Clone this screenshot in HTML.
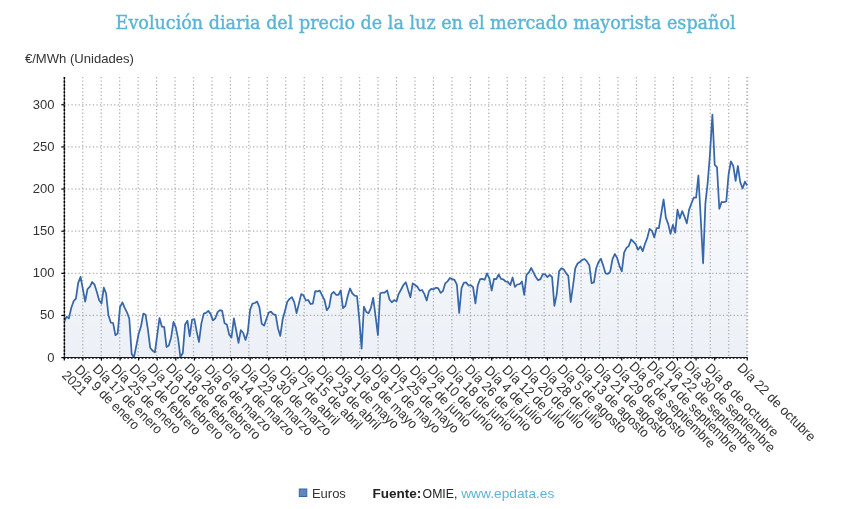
<!DOCTYPE html>
<html lang="es"><head><meta charset="utf-8"><title>Evolución diaria del precio de la luz</title>
<style>
html,body{margin:0;padding:0;background:#fff}
body{width:844px;height:509px;overflow:hidden}
svg{display:block}
.t{font-family:"DejaVu Serif","Liberation Serif",serif;font-size:17.6px;fill:#5bb5d5}
.s{font-family:"Liberation Sans","DejaVu Sans",sans-serif;fill:#333}
</style></head><body>
<svg width="844" height="509" viewBox="0 0 844 509" style="will-change:transform">
<rect width="844" height="509" fill="#fff"/>
<text class="t" x="115.6" y="28.8" textLength="620" stroke="#5bb5d5" stroke-width="0.4" lengthAdjust="spacingAndGlyphs">Evolución diaria del precio de la luz en el mercado mayorista español</text>
<text class="s" x="24.9" y="63.3" font-size="13" textLength="109" lengthAdjust="spacingAndGlyphs">€/MWh (Unidades)</text>
<g stroke="#b2b2b2" stroke-width="1.25" stroke-dasharray="1.3 2.26" fill="none">
<line x1="82.76" y1="77" x2="82.76" y2="357.6"/>
<line x1="101.21" y1="77" x2="101.21" y2="357.6"/>
<line x1="119.67" y1="77" x2="119.67" y2="357.6"/>
<line x1="138.13" y1="77" x2="138.13" y2="357.6"/>
<line x1="156.58" y1="77" x2="156.58" y2="357.6"/>
<line x1="175.04" y1="77" x2="175.04" y2="357.6"/>
<line x1="193.50" y1="77" x2="193.50" y2="357.6"/>
<line x1="211.95" y1="77" x2="211.95" y2="357.6"/>
<line x1="230.41" y1="77" x2="230.41" y2="357.6"/>
<line x1="248.87" y1="77" x2="248.87" y2="357.6"/>
<line x1="267.32" y1="77" x2="267.32" y2="357.6"/>
<line x1="285.78" y1="77" x2="285.78" y2="357.6"/>
<line x1="304.24" y1="77" x2="304.24" y2="357.6"/>
<line x1="322.69" y1="77" x2="322.69" y2="357.6"/>
<line x1="341.15" y1="77" x2="341.15" y2="357.6"/>
<line x1="359.61" y1="77" x2="359.61" y2="357.6"/>
<line x1="378.06" y1="77" x2="378.06" y2="357.6"/>
<line x1="396.52" y1="77" x2="396.52" y2="357.6"/>
<line x1="414.98" y1="77" x2="414.98" y2="357.6"/>
<line x1="433.44" y1="77" x2="433.44" y2="357.6"/>
<line x1="451.89" y1="77" x2="451.89" y2="357.6"/>
<line x1="470.35" y1="77" x2="470.35" y2="357.6"/>
<line x1="488.81" y1="77" x2="488.81" y2="357.6"/>
<line x1="507.26" y1="77" x2="507.26" y2="357.6"/>
<line x1="525.72" y1="77" x2="525.72" y2="357.6"/>
<line x1="544.18" y1="77" x2="544.18" y2="357.6"/>
<line x1="562.63" y1="77" x2="562.63" y2="357.6"/>
<line x1="581.09" y1="77" x2="581.09" y2="357.6"/>
<line x1="599.55" y1="77" x2="599.55" y2="357.6"/>
<line x1="618.00" y1="77" x2="618.00" y2="357.6"/>
<line x1="636.46" y1="77" x2="636.46" y2="357.6"/>
<line x1="654.92" y1="77" x2="654.92" y2="357.6"/>
<line x1="673.37" y1="77" x2="673.37" y2="357.6"/>
<line x1="691.83" y1="77" x2="691.83" y2="357.6"/>
<line x1="710.29" y1="77" x2="710.29" y2="357.6"/>
<line x1="728.74" y1="77" x2="728.74" y2="357.6"/>
<line x1="747.20" y1="77" x2="747.20" y2="357.6" stroke-width="2"/>
<line x1="64.3" y1="315.47" x2="747.2" y2="315.47"/>
<line x1="64.3" y1="273.33" x2="747.2" y2="273.33"/>
<line x1="64.3" y1="231.20" x2="747.2" y2="231.20"/>
<line x1="64.3" y1="189.06" x2="747.2" y2="189.06"/>
<line x1="64.3" y1="146.93" x2="747.2" y2="146.93"/>
<line x1="64.3" y1="104.79" x2="747.2" y2="104.79"/>
</g>
<defs><linearGradient id="g" gradientUnits="userSpaceOnUse" x1="0" y1="112" x2="0" y2="358"><stop offset="0" stop-color="#3767a9" stop-opacity="0.005"/><stop offset="1" stop-color="#3767a9" stop-opacity="0.095"/></linearGradient></defs>
<polygon points="64.3,357.6 64.3,321.4 66.6,316.6 68.9,318.4 71.3,307.7 73.6,301.2 75.9,298.6 78.2,282.9 80.6,276.9 82.9,289.3 85.2,301.6 87.5,289.1 89.9,286.7 92.2,282.0 94.5,284.6 96.8,291.7 99.1,300.0 101.5,303.6 103.8,287.6 106.1,293.5 108.4,315.0 110.8,322.6 113.1,323.0 115.4,335.2 117.7,333.4 120.0,307.2 122.4,302.4 124.7,307.9 127.0,312.3 129.3,318.8 131.7,354.1 134.0,357.1 136.3,345.8 138.6,334.0 141.0,326.3 143.3,313.6 145.6,314.8 147.9,329.3 150.2,347.7 152.6,350.8 154.9,352.4 157.2,335.2 159.5,318.0 161.9,326.7 164.2,326.8 166.5,347.0 168.8,345.6 171.1,337.5 173.5,321.9 175.8,327.4 178.1,338.7 180.4,357.1 182.8,353.0 185.1,324.5 187.4,320.7 189.7,336.4 192.1,319.5 194.4,319.2 196.7,331.6 199.0,342.0 201.3,323.9 203.7,313.6 206.0,312.9 208.3,310.9 210.6,313.9 213.0,320.4 215.3,318.3 217.6,312.1 219.9,310.1 222.2,310.9 224.6,323.3 226.9,324.5 229.2,334.6 231.5,337.5 233.9,318.3 236.2,330.5 238.5,342.8 240.8,330.1 243.2,333.0 245.5,339.9 247.8,332.0 250.1,309.7 252.4,303.6 254.8,303.0 257.1,301.6 259.4,307.2 261.7,323.7 264.1,325.6 266.4,319.0 268.7,312.5 271.0,311.6 273.4,314.3 275.7,314.9 278.0,328.5 280.3,335.9 282.6,319.6 285.0,310.7 287.3,301.8 289.6,298.9 291.9,297.1 294.3,302.4 296.6,313.1 298.9,303.6 301.2,294.1 303.5,295.3 305.9,300.5 308.2,300.0 310.5,304.0 312.8,303.6 315.2,291.2 317.5,291.4 319.8,290.6 322.1,295.3 324.5,300.0 326.8,310.2 329.1,307.1 331.4,294.2 333.7,291.9 336.1,294.8 338.4,294.8 340.7,290.4 343.0,308.2 345.4,305.9 347.7,296.0 350.0,288.5 352.3,293.3 354.6,295.7 357.0,296.0 359.3,319.3 361.6,348.6 363.9,306.7 366.3,312.0 368.6,313.2 370.9,307.9 373.2,297.8 375.6,316.5 377.9,335.1 380.2,293.3 382.5,292.5 384.8,292.5 387.2,290.4 389.5,299.5 391.8,302.3 394.1,300.1 396.5,301.3 398.8,293.6 401.1,289.5 403.4,285.0 405.8,282.3 408.1,290.1 410.4,297.2 412.7,283.4 415.0,285.0 417.4,286.8 419.7,290.6 422.0,290.0 424.3,293.9 426.7,300.5 429.0,291.1 431.3,288.8 433.6,289.3 435.9,287.6 438.3,288.4 440.6,292.9 442.9,291.1 445.2,283.4 447.6,281.3 449.9,278.0 452.2,279.2 454.5,279.8 456.9,284.6 459.2,313.0 461.5,288.2 463.8,282.9 466.1,282.4 468.5,285.5 470.8,285.2 473.1,287.2 475.4,303.3 477.8,285.2 480.1,279.2 482.4,278.9 484.7,279.8 487.0,273.3 489.4,278.6 491.7,290.5 494.0,278.9 496.3,279.2 498.7,274.5 501.0,278.9 503.3,279.4 505.6,281.5 508.0,281.9 510.3,285.1 512.6,277.5 514.9,286.9 517.2,284.5 519.6,284.2 521.9,281.5 524.2,294.9 526.5,274.8 528.9,272.4 531.2,268.0 533.5,272.4 535.8,277.1 538.1,280.3 540.5,279.1 542.8,274.2 545.1,274.3 547.4,277.1 549.8,274.8 552.1,277.1 554.4,305.9 556.7,294.3 559.1,271.1 561.4,268.2 563.7,269.4 566.0,273.0 568.3,275.9 570.7,302.0 573.0,286.0 575.3,268.2 577.6,263.5 580.0,261.7 582.3,259.9 584.6,259.0 586.9,261.4 589.3,265.2 591.6,283.1 593.9,282.4 596.2,268.2 598.5,262.0 600.9,258.8 603.2,265.6 605.5,273.3 607.8,273.9 610.2,271.6 612.5,259.1 614.8,254.0 617.1,257.9 619.4,265.6 621.8,271.3 624.1,252.6 626.4,247.9 628.7,246.1 631.1,239.5 633.4,241.6 635.7,244.1 638.0,249.7 640.4,246.4 642.7,251.2 645.0,243.7 647.3,237.9 649.6,228.8 652.0,230.9 654.3,237.4 656.6,228.0 658.9,228.0 661.3,213.2 663.6,199.5 665.9,217.9 668.2,223.9 670.5,233.9 672.9,224.8 675.2,232.7 677.5,209.6 679.8,218.5 682.2,211.1 684.5,216.7 686.8,223.3 689.1,209.6 691.5,203.2 693.8,197.5 696.1,197.7 698.4,175.5 700.7,217.7 703.1,263.3 705.4,203.4 707.7,182.7 710.0,153.7 712.4,114.6 714.7,164.8 717.0,167.1 719.3,208.8 721.6,202.0 724.0,202.2 726.3,201.1 728.6,174.3 730.9,161.3 733.3,166.0 735.6,180.8 737.9,166.0 740.2,182.0 742.6,188.5 744.9,181.7 747.2,185.5 747.2,357.6" fill="url(#g)"/>
<polyline points="64.3,321.4 66.6,316.6 68.9,318.4 71.3,307.7 73.6,301.2 75.9,298.6 78.2,282.9 80.6,276.9 82.9,289.3 85.2,301.6 87.5,289.1 89.9,286.7 92.2,282.0 94.5,284.6 96.8,291.7 99.1,300.0 101.5,303.6 103.8,287.6 106.1,293.5 108.4,315.0 110.8,322.6 113.1,323.0 115.4,335.2 117.7,333.4 120.0,307.2 122.4,302.4 124.7,307.9 127.0,312.3 129.3,318.8 131.7,354.1 134.0,357.1 136.3,345.8 138.6,334.0 141.0,326.3 143.3,313.6 145.6,314.8 147.9,329.3 150.2,347.7 152.6,350.8 154.9,352.4 157.2,335.2 159.5,318.0 161.9,326.7 164.2,326.8 166.5,347.0 168.8,345.6 171.1,337.5 173.5,321.9 175.8,327.4 178.1,338.7 180.4,357.1 182.8,353.0 185.1,324.5 187.4,320.7 189.7,336.4 192.1,319.5 194.4,319.2 196.7,331.6 199.0,342.0 201.3,323.9 203.7,313.6 206.0,312.9 208.3,310.9 210.6,313.9 213.0,320.4 215.3,318.3 217.6,312.1 219.9,310.1 222.2,310.9 224.6,323.3 226.9,324.5 229.2,334.6 231.5,337.5 233.9,318.3 236.2,330.5 238.5,342.8 240.8,330.1 243.2,333.0 245.5,339.9 247.8,332.0 250.1,309.7 252.4,303.6 254.8,303.0 257.1,301.6 259.4,307.2 261.7,323.7 264.1,325.6 266.4,319.0 268.7,312.5 271.0,311.6 273.4,314.3 275.7,314.9 278.0,328.5 280.3,335.9 282.6,319.6 285.0,310.7 287.3,301.8 289.6,298.9 291.9,297.1 294.3,302.4 296.6,313.1 298.9,303.6 301.2,294.1 303.5,295.3 305.9,300.5 308.2,300.0 310.5,304.0 312.8,303.6 315.2,291.2 317.5,291.4 319.8,290.6 322.1,295.3 324.5,300.0 326.8,310.2 329.1,307.1 331.4,294.2 333.7,291.9 336.1,294.8 338.4,294.8 340.7,290.4 343.0,308.2 345.4,305.9 347.7,296.0 350.0,288.5 352.3,293.3 354.6,295.7 357.0,296.0 359.3,319.3 361.6,348.6 363.9,306.7 366.3,312.0 368.6,313.2 370.9,307.9 373.2,297.8 375.6,316.5 377.9,335.1 380.2,293.3 382.5,292.5 384.8,292.5 387.2,290.4 389.5,299.5 391.8,302.3 394.1,300.1 396.5,301.3 398.8,293.6 401.1,289.5 403.4,285.0 405.8,282.3 408.1,290.1 410.4,297.2 412.7,283.4 415.0,285.0 417.4,286.8 419.7,290.6 422.0,290.0 424.3,293.9 426.7,300.5 429.0,291.1 431.3,288.8 433.6,289.3 435.9,287.6 438.3,288.4 440.6,292.9 442.9,291.1 445.2,283.4 447.6,281.3 449.9,278.0 452.2,279.2 454.5,279.8 456.9,284.6 459.2,313.0 461.5,288.2 463.8,282.9 466.1,282.4 468.5,285.5 470.8,285.2 473.1,287.2 475.4,303.3 477.8,285.2 480.1,279.2 482.4,278.9 484.7,279.8 487.0,273.3 489.4,278.6 491.7,290.5 494.0,278.9 496.3,279.2 498.7,274.5 501.0,278.9 503.3,279.4 505.6,281.5 508.0,281.9 510.3,285.1 512.6,277.5 514.9,286.9 517.2,284.5 519.6,284.2 521.9,281.5 524.2,294.9 526.5,274.8 528.9,272.4 531.2,268.0 533.5,272.4 535.8,277.1 538.1,280.3 540.5,279.1 542.8,274.2 545.1,274.3 547.4,277.1 549.8,274.8 552.1,277.1 554.4,305.9 556.7,294.3 559.1,271.1 561.4,268.2 563.7,269.4 566.0,273.0 568.3,275.9 570.7,302.0 573.0,286.0 575.3,268.2 577.6,263.5 580.0,261.7 582.3,259.9 584.6,259.0 586.9,261.4 589.3,265.2 591.6,283.1 593.9,282.4 596.2,268.2 598.5,262.0 600.9,258.8 603.2,265.6 605.5,273.3 607.8,273.9 610.2,271.6 612.5,259.1 614.8,254.0 617.1,257.9 619.4,265.6 621.8,271.3 624.1,252.6 626.4,247.9 628.7,246.1 631.1,239.5 633.4,241.6 635.7,244.1 638.0,249.7 640.4,246.4 642.7,251.2 645.0,243.7 647.3,237.9 649.6,228.8 652.0,230.9 654.3,237.4 656.6,228.0 658.9,228.0 661.3,213.2 663.6,199.5 665.9,217.9 668.2,223.9 670.5,233.9 672.9,224.8 675.2,232.7 677.5,209.6 679.8,218.5 682.2,211.1 684.5,216.7 686.8,223.3 689.1,209.6 691.5,203.2 693.8,197.5 696.1,197.7 698.4,175.5 700.7,217.7 703.1,263.3 705.4,203.4 707.7,182.7 710.0,153.7 712.4,114.6 714.7,164.8 717.0,167.1 719.3,208.8 721.6,202.0 724.0,202.2 726.3,201.1 728.6,174.3 730.9,161.3 733.3,166.0 735.6,180.8 737.9,166.0 740.2,182.0 742.6,188.5 744.9,181.7 747.2,185.5" fill="none" stroke="#3767a9" stroke-width="1.75" stroke-linejoin="round"/>
<g stroke="#000" fill="none">
<line x1="64.39999999999999" y1="77" x2="64.39999999999999" y2="358.5" stroke-width="1.2" stroke="#5a5a5a"/>
<line x1="64.39999999999999" y1="77" x2="64.39999999999999" y2="358.5" stroke-width="1.5" stroke-dasharray="2.1 1.44"/>
<line x1="63.599999999999994" y1="357.5" x2="747.7" y2="357.5" stroke-width="1.1" stroke="#14161c"/>
<line x1="63.599999999999994" y1="358.5" x2="747.7" y2="358.5" stroke-width="1" stroke="#14161c" stroke-opacity="0.75" stroke-dasharray="1.9 1.64"/>
<line x1="61.3" y1="357.60" x2="64.3" y2="357.60" stroke-width="1.2"/>
<line x1="61.3" y1="315.47" x2="64.3" y2="315.47" stroke-width="1.2"/>
<line x1="61.3" y1="273.33" x2="64.3" y2="273.33" stroke-width="1.2"/>
<line x1="61.3" y1="231.20" x2="64.3" y2="231.20" stroke-width="1.2"/>
<line x1="61.3" y1="189.06" x2="64.3" y2="189.06" stroke-width="1.2"/>
<line x1="61.3" y1="146.93" x2="64.3" y2="146.93" stroke-width="1.2"/>
<line x1="61.3" y1="104.79" x2="64.3" y2="104.79" stroke-width="1.2"/>
<line x1="64.30" y1="357.6" x2="64.30" y2="360.6" stroke-width="1.2"/>
<line x1="82.88" y1="357.6" x2="82.88" y2="360.6" stroke-width="1.2"/>
<line x1="101.46" y1="357.6" x2="101.46" y2="360.6" stroke-width="1.2"/>
<line x1="120.05" y1="357.6" x2="120.05" y2="360.6" stroke-width="1.2"/>
<line x1="138.63" y1="357.6" x2="138.63" y2="360.6" stroke-width="1.2"/>
<line x1="157.21" y1="357.6" x2="157.21" y2="360.6" stroke-width="1.2"/>
<line x1="175.79" y1="357.6" x2="175.79" y2="360.6" stroke-width="1.2"/>
<line x1="194.38" y1="357.6" x2="194.38" y2="360.6" stroke-width="1.2"/>
<line x1="212.96" y1="357.6" x2="212.96" y2="360.6" stroke-width="1.2"/>
<line x1="231.54" y1="357.6" x2="231.54" y2="360.6" stroke-width="1.2"/>
<line x1="250.12" y1="357.6" x2="250.12" y2="360.6" stroke-width="1.2"/>
<line x1="268.71" y1="357.6" x2="268.71" y2="360.6" stroke-width="1.2"/>
<line x1="287.29" y1="357.6" x2="287.29" y2="360.6" stroke-width="1.2"/>
<line x1="305.87" y1="357.6" x2="305.87" y2="360.6" stroke-width="1.2"/>
<line x1="324.45" y1="357.6" x2="324.45" y2="360.6" stroke-width="1.2"/>
<line x1="343.03" y1="357.6" x2="343.03" y2="360.6" stroke-width="1.2"/>
<line x1="361.62" y1="357.6" x2="361.62" y2="360.6" stroke-width="1.2"/>
<line x1="380.20" y1="357.6" x2="380.20" y2="360.6" stroke-width="1.2"/>
<line x1="398.78" y1="357.6" x2="398.78" y2="360.6" stroke-width="1.2"/>
<line x1="417.36" y1="357.6" x2="417.36" y2="360.6" stroke-width="1.2"/>
<line x1="435.95" y1="357.6" x2="435.95" y2="360.6" stroke-width="1.2"/>
<line x1="454.53" y1="357.6" x2="454.53" y2="360.6" stroke-width="1.2"/>
<line x1="473.11" y1="357.6" x2="473.11" y2="360.6" stroke-width="1.2"/>
<line x1="491.69" y1="357.6" x2="491.69" y2="360.6" stroke-width="1.2"/>
<line x1="510.28" y1="357.6" x2="510.28" y2="360.6" stroke-width="1.2"/>
<line x1="528.86" y1="357.6" x2="528.86" y2="360.6" stroke-width="1.2"/>
<line x1="547.44" y1="357.6" x2="547.44" y2="360.6" stroke-width="1.2"/>
<line x1="566.02" y1="357.6" x2="566.02" y2="360.6" stroke-width="1.2"/>
<line x1="584.60" y1="357.6" x2="584.60" y2="360.6" stroke-width="1.2"/>
<line x1="603.19" y1="357.6" x2="603.19" y2="360.6" stroke-width="1.2"/>
<line x1="621.77" y1="357.6" x2="621.77" y2="360.6" stroke-width="1.2"/>
<line x1="640.35" y1="357.6" x2="640.35" y2="360.6" stroke-width="1.2"/>
<line x1="658.93" y1="357.6" x2="658.93" y2="360.6" stroke-width="1.2"/>
<line x1="677.52" y1="357.6" x2="677.52" y2="360.6" stroke-width="1.2"/>
<line x1="696.10" y1="357.6" x2="696.10" y2="360.6" stroke-width="1.2"/>
<line x1="714.68" y1="357.6" x2="714.68" y2="360.6" stroke-width="1.2"/>
<line x1="747.20" y1="357.6" x2="747.20" y2="360.6" stroke-width="1.2"/>
</g>
<g class="s" font-size="13" text-anchor="end">
<text x="54.5" y="361.5">0</text>
<text x="54.5" y="319.4">50</text>
<text x="54.5" y="277.2">100</text>
<text x="54.5" y="235.1">150</text>
<text x="54.5" y="193.0">200</text>
<text x="54.5" y="150.8">250</text>
<text x="54.5" y="108.7">300</text>
</g>
<g class="s" font-size="13.6">
<text transform="translate(61.3 376.2) rotate(45)" textLength="28.4" lengthAdjust="spacingAndGlyphs">2021</text>
<text transform="translate(74.0 370.4) rotate(45)" textLength="85.0" lengthAdjust="spacingAndGlyphs">Día 9 de enero</text>
<text transform="translate(91.9 369.7) rotate(45)" textLength="92.1" lengthAdjust="spacingAndGlyphs">Día 17 de enero</text>
<text transform="translate(110.5 369.7) rotate(45)" textLength="92.1" lengthAdjust="spacingAndGlyphs">Día 25 de enero</text>
<text transform="translate(128.8 369.4) rotate(45)" textLength="94.2" lengthAdjust="spacingAndGlyphs">Día 2 de febrero</text>
<text transform="translate(146.7 368.7) rotate(45)" textLength="101.3" lengthAdjust="spacingAndGlyphs">Día 10 de febrero</text>
<text transform="translate(165.3 368.7) rotate(45)" textLength="101.3" lengthAdjust="spacingAndGlyphs">Día 18 de febrero</text>
<text transform="translate(183.8 368.7) rotate(45)" textLength="101.3" lengthAdjust="spacingAndGlyphs">Día 26 de febrero</text>
<text transform="translate(203.8 370.1) rotate(45)" textLength="88.1" lengthAdjust="spacingAndGlyphs">Día 6 de marzo</text>
<text transform="translate(221.6 369.3) rotate(45)" textLength="95.2" lengthAdjust="spacingAndGlyphs">Día 14 de marzo</text>
<text transform="translate(240.2 369.3) rotate(45)" textLength="95.2" lengthAdjust="spacingAndGlyphs">Día 22 de marzo</text>
<text transform="translate(258.8 369.3) rotate(45)" textLength="95.2" lengthAdjust="spacingAndGlyphs">Día 30 de marzo</text>
<text transform="translate(279.2 371.2) rotate(45)" textLength="77.5" lengthAdjust="spacingAndGlyphs">Día 7 de abril</text>
<text transform="translate(297.1 370.4) rotate(45)" textLength="84.6" lengthAdjust="spacingAndGlyphs">Día 15 de abril</text>
<text transform="translate(315.6 370.4) rotate(45)" textLength="84.6" lengthAdjust="spacingAndGlyphs">Día 23 de abril</text>
<text transform="translate(334.3 370.5) rotate(45)" textLength="83.7" lengthAdjust="spacingAndGlyphs">Día 1 de mayo</text>
<text transform="translate(352.9 370.5) rotate(45)" textLength="83.7" lengthAdjust="spacingAndGlyphs">Día 9 de mayo</text>
<text transform="translate(370.8 369.8) rotate(45)" textLength="90.8" lengthAdjust="spacingAndGlyphs">Día 17 de mayo</text>
<text transform="translate(389.3 369.8) rotate(45)" textLength="90.8" lengthAdjust="spacingAndGlyphs">Día 25 de mayo</text>
<text transform="translate(409.0 370.8) rotate(45)" textLength="80.6" lengthAdjust="spacingAndGlyphs">Día 2 de junio</text>
<text transform="translate(426.8 370.1) rotate(45)" textLength="87.7" lengthAdjust="spacingAndGlyphs">Día 10 de junio</text>
<text transform="translate(445.4 370.1) rotate(45)" textLength="87.7" lengthAdjust="spacingAndGlyphs">Día 18 de junio</text>
<text transform="translate(464.0 370.1) rotate(45)" textLength="87.7" lengthAdjust="spacingAndGlyphs">Día 26 de junio</text>
<text transform="translate(483.7 371.3) rotate(45)" textLength="76.5" lengthAdjust="spacingAndGlyphs">Día 4 de julio</text>
<text transform="translate(501.6 370.5) rotate(45)" textLength="83.6" lengthAdjust="spacingAndGlyphs">Día 12 de julio</text>
<text transform="translate(520.2 370.5) rotate(45)" textLength="83.6" lengthAdjust="spacingAndGlyphs">Día 20 de julio</text>
<text transform="translate(538.7 370.5) rotate(45)" textLength="83.6" lengthAdjust="spacingAndGlyphs">Día 28 de julio</text>
<text transform="translate(556.6 369.8) rotate(45)" textLength="91.0" lengthAdjust="spacingAndGlyphs">Día 5 de agosto</text>
<text transform="translate(574.4 369.0) rotate(45)" textLength="98.1" lengthAdjust="spacingAndGlyphs">Día 13 de agosto</text>
<text transform="translate(593.0 369.0) rotate(45)" textLength="98.1" lengthAdjust="spacingAndGlyphs">Día 21 de agosto</text>
<text transform="translate(611.6 369.0) rotate(45)" textLength="98.1" lengthAdjust="spacingAndGlyphs">Día 29 de agosto</text>
<text transform="translate(628.4 367.3) rotate(45)" textLength="115.2" lengthAdjust="spacingAndGlyphs">Día 6 de septiembre</text>
<text transform="translate(646.3 366.6) rotate(45)" textLength="122.1" lengthAdjust="spacingAndGlyphs">Día 14 de septiembre</text>
<text transform="translate(664.8 366.6) rotate(45)" textLength="122.1" lengthAdjust="spacingAndGlyphs">Día 22 de septiembre</text>
<text transform="translate(683.4 366.6) rotate(45)" textLength="122.1" lengthAdjust="spacingAndGlyphs">Día 30 de septiembre</text>
<text transform="translate(704.6 369.1) rotate(45)" textLength="97.1" lengthAdjust="spacingAndGlyphs">Día 8 de octubre</text>
<text transform="translate(736.4 368.4) rotate(45)" textLength="104.2" lengthAdjust="spacingAndGlyphs">Día 22 de octubre</text>
</g>
<rect x="299.3" y="489" width="7.5" height="7.5" fill="#3767a9" fill-opacity="0.8" stroke="#3767a9" stroke-width="1"/>
<g class="s" font-size="13.5">
<text x="311.9" y="497.5" textLength="34" lengthAdjust="spacingAndGlyphs">Euros</text>
<text x="372.4" y="497.5" font-weight="bold" textLength="48.8" lengthAdjust="spacingAndGlyphs" style="fill:#222">Fuente:</text>
<text x="422.6" y="497.5" textLength="34.8" lengthAdjust="spacingAndGlyphs" style="fill:#222">OMIE,</text>
<text x="461.2" y="497.5" textLength="93.2" lengthAdjust="spacingAndGlyphs" style="fill:#5bb5d5">www.epdata.es</text>
</g>
</svg></body></html>
